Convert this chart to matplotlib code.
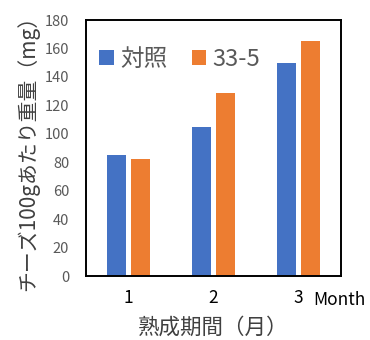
import numpy as np
import matplotlib.pyplot as plt
import matplotlib.transforms as mtransforms

plt.rcParams['font.family'] = ['Noto Sans CJK JP', 'DejaVu Sans']

months = ['1', '2', '3']
control = [85, 105, 150]
strain_33_5 = [82, 129, 165]
series_names = ['対照', '33-5']

x = np.arange(len(months))
w = 0.225

fig = plt.figure(figsize=(3.7, 3.4), dpi=100)
ax = fig.add_axes([0.232, 0.188, 0.69, 0.753])

ax.bar(x - 0.138, control, w, color='#4472C4', label=series_names[0])
ax.bar(x + 0.138, strain_33_5, w, color='#ED7D31', label=series_names[1])

ax.set_xlim(-0.5, 2.5)
ax.set_ylim(0, 180)
ax.set_yticks(range(0, 181, 20))
ax.set_xticks(x)
ax.set_xticklabels(months)
ax.tick_params(axis='y', length=0, labelsize=10.5, labelcolor='#595959', pad=12)
ax.tick_params(axis='x', length=0, labelsize=12.5, pad=9)
for s in ax.spines.values():
    s.set_linewidth(1.4)
    s.set_color('black')

# unit label after the last tick
trans = mtransforms.blended_transform_factory(ax.transData, ax.transAxes)
ax.text(2.17, -0.092, 'Month', transform=trans, fontsize=12.5,
        ha='left', va='center')

ax.set_xlabel('熟成期間（月）', fontsize=15.5, color='#404040', labelpad=7)
ax.set_ylabel('チーズ100gあたり重量（mg）', fontsize=15, color='#404040',
              labelpad=4)

ax.legend(loc='upper left', bbox_to_anchor=(-0.03, 0.975), frameon=False,
          ncol=2, fontsize=17, labelcolor='#595959', handlelength=0.6,
          handleheight=0.6, handletextpad=0.3, columnspacing=1.0)

fig.savefig('out.png', dpi=100)
